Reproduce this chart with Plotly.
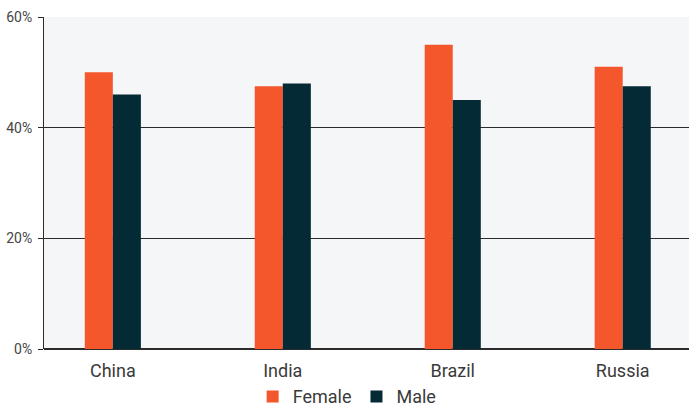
import plotly.graph_objects as go

countries = ["China", "India", "Brazil", "Russia"]
female = [50, 47.5, 55, 51]
male = [46, 48, 45, 47.5]
y_ticks = [0, 20, 40, 60]
y_tick_labels = ["0%", "20%", "40%", "60%"]

fig = go.Figure()
fig.add_trace(go.Bar(name="Female", x=countries, y=female, marker_color="#f3572b", marker_line_width=0))
fig.add_trace(go.Bar(name="Male", x=countries, y=male, marker_color="#032a35", marker_line_width=0))

fig.update_layout(
    width=689, height=409,
    margin=dict(l=44, r=0, t=17, b=60, autoexpand=False),
    barmode="group", bargap=0.67, bargroupgap=0,
    paper_bgcolor="white", plot_bgcolor="#f5f6f8",
    font=dict(family="Roboto, sans-serif", color="#3a3a3a"),
    showlegend=True,
    legend=dict(orientation="h", x=0.47, xanchor="center",
                yref="container", y=0.03, yanchor="middle",
                font=dict(size=18, color="#3a3a3a"), bgcolor="rgba(0,0,0,0)",
                traceorder="normal"),
    xaxis=dict(range=[-0.405, 3.39], showgrid=False, showline=False, zeroline=False,
               ticks="", ticklabelstandoff=9, tickfont=dict(size=18, color="#3a3a3a")),
    yaxis=dict(range=[0, 60], tickvals=y_ticks, ticktext=y_tick_labels,
               showgrid=True, gridcolor="#2b2b2b", gridwidth=1,
               zeroline=True, zerolinecolor="#2b2b2b", zerolinewidth=1.5,
               showline=True, linecolor="#2b2b2b", linewidth=1,
               ticks="outside", ticklen=5, tickcolor="#2b2b2b", ticklabelstandoff=3,
               tickfont=dict(size=14, color="#444444")),
)

fig.write_html("out.html")
